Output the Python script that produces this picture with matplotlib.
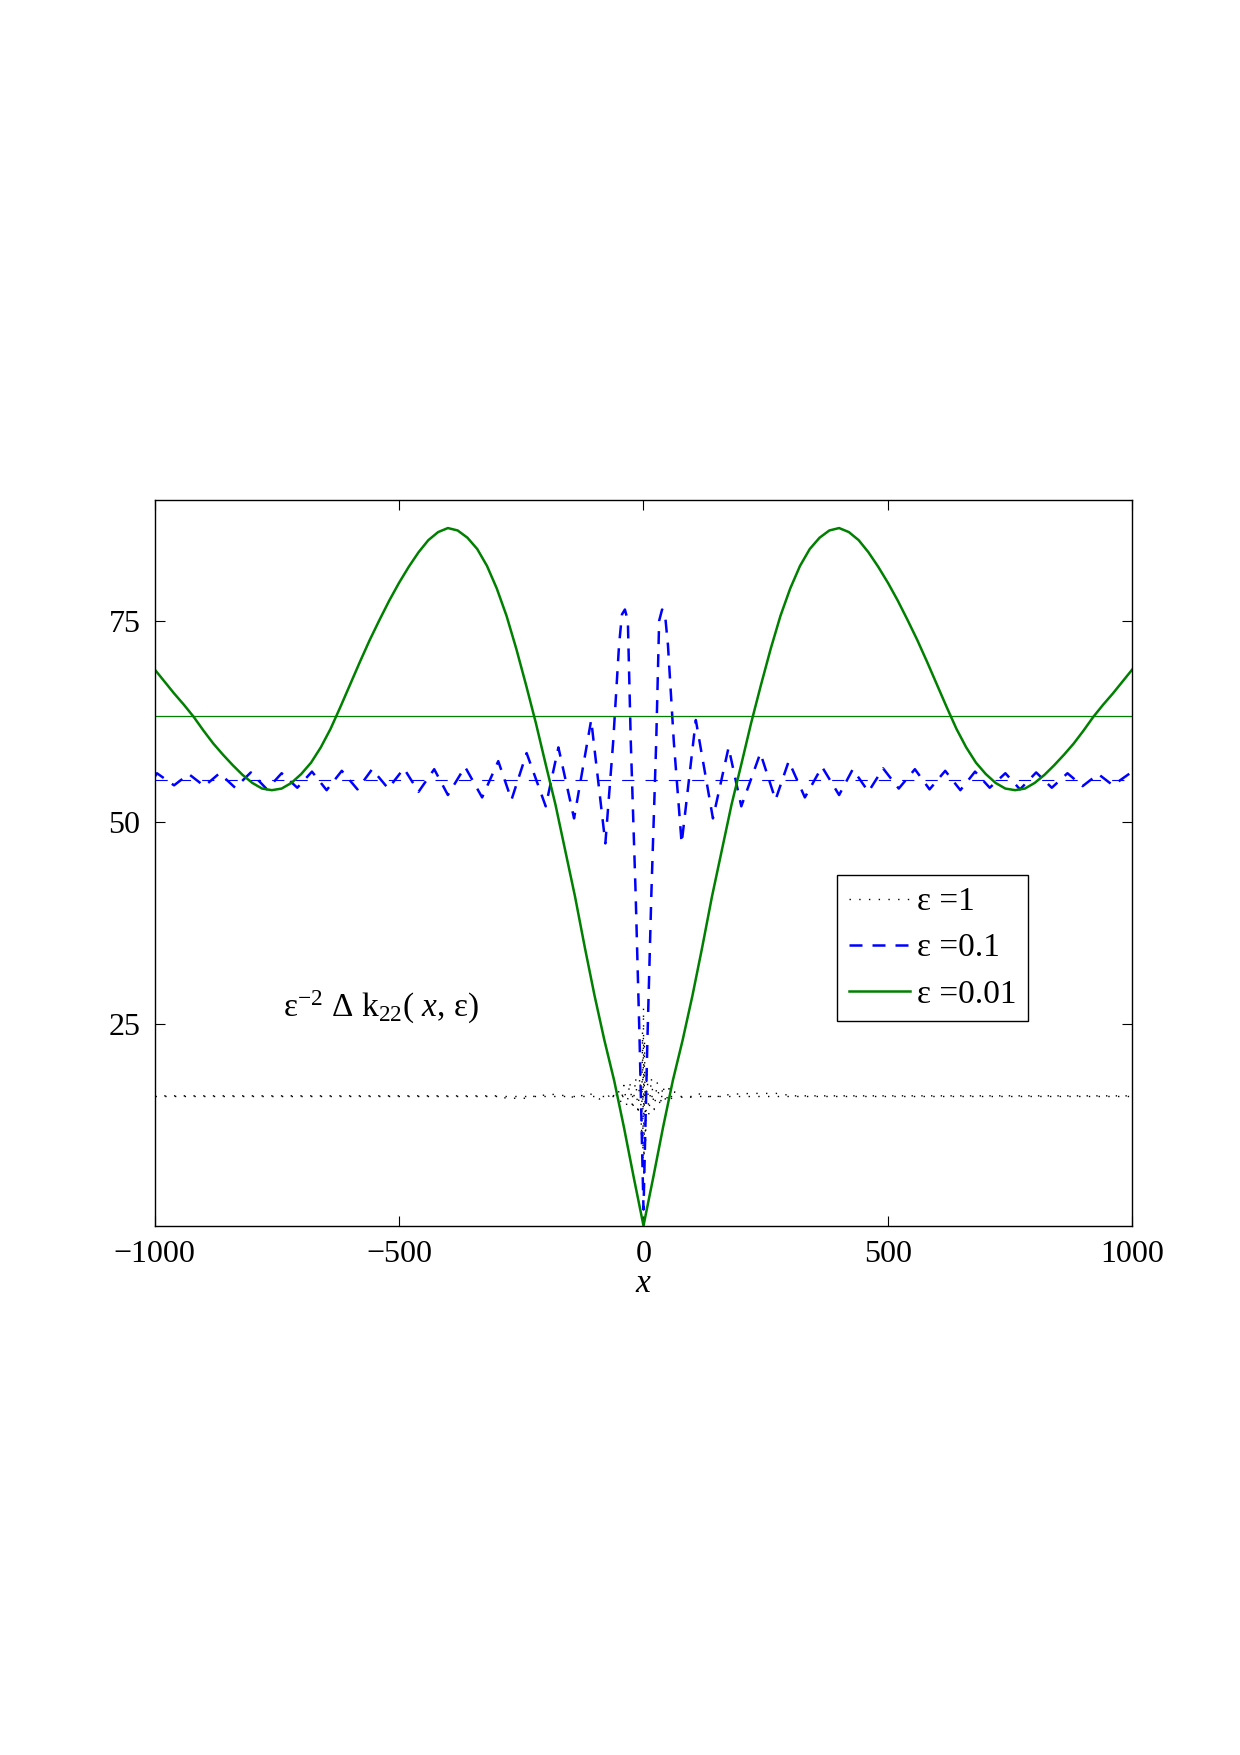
import matplotlib
matplotlib.use('Agg')
import matplotlib.pyplot as plt

plt.rcParams['font.family'] = ['Liberation Serif', 'DejaVu Serif']
plt.rcParams['mathtext.fontset'] = 'custom'
plt.rcParams['mathtext.rm'] = 'Liberation Serif'
plt.rcParams['mathtext.it'] = 'Liberation Serif:italic'

# eps = 0.01
x_green = [-1000, -980, -960, -940, -920, -900, -880, -860, -840, -820, -800, -780,
           -760, -740, -720, -700, -680, -660, -640, -620, -600, -580, -560, -540,
           -520, -500, -480, -460, -440, -420, -400, -380, -360, -340, -320, -300,
           -280, -260, -240, -220, -200, -180, -160, -140, -120, -100, -80, -60,
           -40, -20, 0,
           20, 40, 60, 80, 100, 120, 140, 160, 180, 200, 220, 240, 260, 280, 300,
           320, 340, 360, 380, 400, 420, 440, 460, 480, 500, 520, 540, 560, 580,
           600, 620, 640, 660, 680, 700, 720, 740, 760, 780, 800, 820, 840, 860,
           880, 900, 920, 940, 960, 980, 1000]
y_green = [69.0, 67.5, 66.0, 64.6, 63.1, 61.4, 59.8, 58.4, 57.1, 55.9, 54.9, 54.2,
           54.0, 54.2, 54.9, 56.0, 57.4, 59.3, 61.6, 64.3, 67.1, 69.9, 72.6, 75.1,
           77.5, 79.7, 81.7, 83.5, 85.0, 86.0, 86.5, 86.2, 85.3, 83.9, 81.8, 79.0,
           75.6, 71.5, 67.0, 62.3, 57.2, 52.2, 46.5, 40.8, 34.5, 28.5, 23.0, 18.0,
           12.2, 6.0, 0.0,
           6.0, 12.2, 18.0, 23.0, 28.5, 34.5, 40.8, 46.5, 52.2, 57.2, 62.3, 67.0,
           71.5, 75.6, 79.0, 81.8, 83.9, 85.3, 86.2, 86.5, 86.0, 85.0, 83.5, 81.7,
           79.7, 77.5, 75.1, 72.6, 69.9, 67.1, 64.3, 61.6, 59.3, 57.4, 56.0, 54.9,
           54.2, 54.0, 54.2, 54.9, 55.9, 57.1, 58.4, 59.8, 61.4, 63.1, 64.6, 66.0,
           67.5, 69.0]
level_green = 63.2

# eps = 0.1
x_blue = [-1000, -995, -960, -930, -898, -867, -835, -803, -770, -740, -708, -678,
          -648, -617, -585, -555, -522, -490, -460, -428, -400, -365, -330, -297,
          -270, -239, -200, -174, -142, -107, -78, -62, -50, -44, -38, -32, -26,
          -16, -8, 0,
          8, 16, 26, 32, 38, 44, 50, 62, 78, 107, 142, 174, 200, 239, 270, 297,
          330, 365, 400, 428, 460, 490, 522, 555, 585, 617, 648, 678, 708, 740,
          770, 803, 835, 867, 898, 930, 960, 995, 1000]
y_blue = [55.6, 56.1, 54.6, 56.0, 54.5, 56.1, 54.3, 56.2, 54.1, 56.1, 54.3, 56.3,
          54.0, 56.4, 54.1, 56.6, 54.2, 56.7, 53.8, 56.6, 53.4, 56.9, 53.1, 57.6,
          52.8, 58.6, 52.0, 59.3, 50.5, 62.7, 47.4, 60.0, 72.0, 75.8, 76.4, 75.0,
          60.0, 41.0, 23.0, 2.0,
          23.0, 41.0, 60.0, 75.0, 76.4, 75.8, 72.0, 60.0, 47.4, 62.7, 50.5, 59.3,
          52.0, 58.6, 52.8, 57.6, 53.1, 56.9, 53.4, 56.6, 53.8, 56.7, 54.2, 56.6,
          54.1, 56.4, 54.0, 56.3, 54.3, 56.1, 54.1, 56.2, 54.3, 56.1, 54.5, 56.0,
          54.6, 56.1, 55.6]
level_blue = 55.3

# eps = 1
x_black = [-1000, -300, -280, -240, -220, -180, -140, -110, -90, -70, -64, -58, -52,
           -46, -40, -34, -28, -22, -16, -11, -7, -4, -2, -1, 0, 1, 2, 4, 7, 11, 16,
           22, 28, 34, 40, 46, 52, 58, 64, 70, 90, 110, 140, 180, 220, 240, 280,
           300, 1000]
y_black = [16.1, 16.1, 15.8, 15.8, 16.1, 16.3, 15.9, 16.4, 15.7, 16.1, 16.6, 15.6,
           17.0, 15.2, 17.4, 14.8, 17.8, 14.4, 18.3, 13.8, 19.5, 11.0, 24.0, 8.0,
           27.0, 6.0, 23.0, 10.0, 19.5, 13.8, 18.3, 14.4, 17.8, 14.8, 17.4, 15.2,
           17.0, 15.6, 16.6, 16.1, 15.7, 16.4, 15.9, 16.3, 16.4, 16.4, 16.4, 16.1,
           16.1]
level_black = 16.1

labels = ['ε =1', 'ε =0.1', 'ε =0.01']
xticks = [-1000, -500, 0, 500, 1000]
yticks = [25, 50, 75]

fig = plt.figure(figsize=(12.4, 17.55), dpi=100)
ax = fig.add_axes([0.1246, 0.3016, 0.7887, 0.4136])

l1, = ax.plot(x_black, y_black, color='black', lw=1.0, linestyle=(0, (1, 6)))
ax.axhline(level_black, color='black', lw=1.0, linestyle=(0, (1, 6)))
l2, = ax.plot(x_blue, y_blue, color='#0000ff', lw=1.8, linestyle=(0, (5.2, 4)))
ax.axhline(level_blue, color='#0000ff', lw=0.8, linestyle=(0, (11, 10)))
l3, = ax.plot(x_green, y_green, color='#008000', lw=1.8)
ax.axhline(level_green, color='#008000', lw=0.9)

ax.set_xlim(-1000, 1000)
ax.set_ylim(0, 90)
ax.set_xticks(xticks)
ax.set_yticks(yticks)
ax.tick_params(direction='in', length=7, width=0.8, labelsize=23,
               top=True, right=True, pad=10)
for s in ax.spines.values():
    s.set_linewidth(1.0)

ax.set_xlabel('$x$', fontsize=24, labelpad=0)
ax.text(-738, 27.0, 'ε$^{-2}$ Δ k$_{22}$( $x$, ε)', fontsize=24,
        ha='left', va='center')

leg = ax.legend([l1, l2, l3], labels, loc='upper left',
                bbox_to_anchor=(0.698, 0.483), fontsize=24, fancybox=False,
                edgecolor='black', framealpha=1, handlelength=1.85,
                handletextpad=0.2, borderpad=0.35, labelspacing=0.47,
                borderaxespad=0)
leg.get_frame().set_linewidth(1.0)

fig.savefig('out.png', dpi=100)
